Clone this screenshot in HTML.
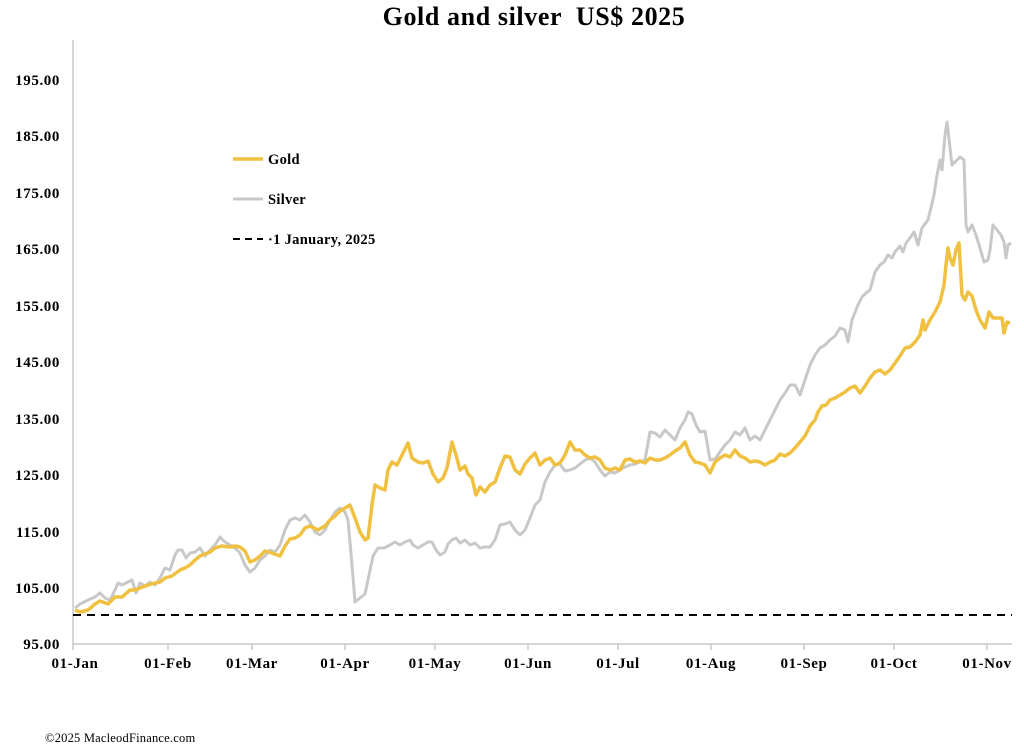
<!DOCTYPE html>
<html><head><meta charset="utf-8"><style>
html,body{margin:0;padding:0;background:#fff;width:1024px;height:753px;overflow:hidden}
svg text{font-family:"Liberation Serif",serif}
</style></head><body>
<svg width="1024" height="753" viewBox="0 0 1024 753">
<text x="534" y="25" text-anchor="middle" font-size="26" font-weight="bold" letter-spacing="0.6" xml:space="preserve">Gold and silver  US$ 2025</text>
<line x1="73" y1="40" x2="73" y2="645" stroke="#c8c8c8" stroke-width="1.5"/>
<line x1="73" y1="644" x2="1012" y2="644" stroke="#c8c8c8" stroke-width="1.5"/>
<g stroke="#c8c8c8" stroke-width="1.5">
<line x1="73" y1="644" x2="73" y2="650"/><line x1="168" y1="644" x2="168" y2="650"/><line x1="252" y1="644" x2="252" y2="650"/><line x1="345" y1="644" x2="345" y2="650"/><line x1="435" y1="644" x2="435" y2="650"/><line x1="528" y1="644" x2="528" y2="650"/><line x1="618" y1="644" x2="618" y2="650"/><line x1="711" y1="644" x2="711" y2="650"/><line x1="804" y1="644" x2="804" y2="650"/><line x1="894" y1="644" x2="894" y2="650"/><line x1="987" y1="644" x2="987" y2="650"/>
</g>
<g font-size="15" font-weight="bold" text-anchor="end" letter-spacing="0.6">
<text x="60" y="85">195.00</text><text x="60" y="141">185.00</text><text x="60" y="198">175.00</text><text x="60" y="254">165.00</text><text x="60" y="311">155.00</text><text x="60" y="367">145.00</text><text x="60" y="424">135.00</text><text x="60" y="480">125.00</text><text x="60" y="537">115.00</text><text x="60" y="593">105.00</text><text x="60" y="649">95.00</text>
</g>
<g font-size="15" font-weight="bold" text-anchor="middle" letter-spacing="0.6">
<text x="75" y="668">01-Jan</text><text x="168" y="668">01-Feb</text><text x="252" y="668">01-Mar</text><text x="345" y="668">01-Apr</text><text x="435" y="668">01-May</text><text x="528" y="668">01-Jun</text><text x="618" y="668">01-Jul</text><text x="711" y="668">01-Aug</text><text x="804" y="668">01-Sep</text><text x="894" y="668">01-Oct</text><text x="987" y="668">01-Nov</text>
</g>
<line x1="73" y1="615" x2="1012" y2="615" stroke="#000" stroke-width="2" stroke-dasharray="8,6"/>
<polyline fill="none" stroke="#c8c8c8" stroke-width="3" stroke-linejoin="round" points="75,608 80,604 88,600 95,597 100,593 105,598 110,600 115,590 118,583 122,585 128,582 132,580 136,593 140,583 145,586 150,582 155,585 160,578 165,568 170,570 175,555 178,550 182,550 186,558 190,553 195,552 200,548 205,556 210,550 215,545 220,537 225,542 230,545 235,548 240,553 245,565 250,572 255,568 260,560 265,556 270,550 275,552 280,545 285,530 290,520 295,518 300,520 305,515 310,522 315,532 320,535 325,530 330,520 335,512 340,508 345,512 348,520 352,565 355,602 360,598 365,594 369,575 373,556 378,548 384,548 390,545 395,542 400,545 405,542 410,540 413,545 418,548 423,545 428,542 432,542 436,550 440,555 445,552 448,544 452,540 456,538 460,543 465,540 470,545 475,543 480,548 485,547 490,547 495,540 500,525 505,524 510,522 515,530 520,535 525,530 530,518 535,505 540,500 545,482 550,472 555,465 560,464 565,471 570,470 575,468 580,464 585,460 590,458 595,462 600,470 605,476 610,472 615,473 620,470 625,467 630,465 635,464 640,462 645,460 650,432 655,433 660,437 665,430 670,435 675,440 680,428 685,420 688,412 692,414 696,425 700,432 705,431 710,460 715,459 720,452 725,445 730,440 735,432 740,435 745,428 750,440 755,436 760,440 765,430 770,420 775,410 780,400 785,393 790,385 795,385 800,395 805,380 810,365 815,355 820,348 825,345 830,340 835,336 840,328 845,330 848,342 852,320 858,305 862,297 866,293 870,290 875,272 880,265 884,262 888,255 892,258 895,252 900,246 903,252 906,243 910,238 914,232 918,245 922,228 928,220 934,195 937,175 940,160 942,170 945,135 947,122 952,165 955,162 960,157 964,160 966,225 968,232 972,225 976,235 980,248 984,262 988,260 990,250 993,225 997,230 1001,235 1004,242 1006,258 1008,245 1011,243"/>
<polyline fill="none" stroke="#f0c040" stroke-width="3.5" stroke-linejoin="round" points="75,610 80,612 88,610 95,604 100,601 108,604 115,597 122,597 130,590 135,590 140,588 148,585 155,583 160,582 165,578 172,576 180,570 185,568 190,565 195,560 200,556 205,554 210,552 215,548 222,546 230,547 235,546 240,547 245,551 250,562 255,560 260,556 265,551 272,553 280,556 285,546 290,539 295,538 300,535 305,528 310,526 318,530 325,526 330,520 335,516 340,511 345,508 350,505 355,518 360,532 365,540 368,538 372,505 375,485 380,488 385,490 388,470 392,462 397,465 402,455 408,443 412,458 418,462 423,463 428,461 433,474 438,482 443,478 447,468 452,442 456,455 460,470 465,466 468,474 472,478 476,495 480,487 485,492 490,485 495,482 500,468 505,456 510,457 515,470 520,474 525,464 530,458 535,453 540,465 545,460 550,458 555,465 560,463 565,455 570,442 575,450 580,450 585,455 590,458 595,457 600,460 605,468 610,470 615,468 620,470 625,460 630,459 635,462 640,461 645,463 650,458 655,460 660,460 665,458 670,455 675,451 680,448 685,442 690,455 695,462 700,463 705,465 710,473 715,462 720,458 725,455 730,457 735,450 740,456 745,458 750,462 755,461 760,462 765,465 770,462 775,460 780,454 785,456 790,453 795,448 800,442 805,436 810,426 815,420 818,412 822,406 826,405 830,400 835,398 840,395 845,392 850,388 855,386 860,393 865,386 870,378 875,372 880,370 885,374 890,370 895,363 900,356 905,348 910,347 915,342 920,335 923,320 925,330 930,320 935,312 940,302 944,285 946,265 948,248 950,258 953,265 956,250 959,243 962,295 965,300 968,292 972,296 976,310 980,320 985,328 989,312 993,318 997,318 1002,318 1004,333 1007,322 1010,323"/>
<line x1="233" y1="159" x2="263" y2="159" stroke="#f0c040" stroke-width="3.5"/>
<line x1="233" y1="199" x2="263" y2="199" stroke="#c8c8c8" stroke-width="3"/>
<line x1="233" y1="239" x2="263" y2="239" stroke="#000" stroke-width="2" stroke-dasharray="7,5"/>
<g font-size="14.5" font-weight="bold" letter-spacing="0.3">
<text x="268" y="164">Gold</text><text x="268" y="204">Silver</text><text x="268" y="244">·1 January, 2025</text>
</g>
<text x="45" y="742" font-size="12.5" letter-spacing="0.2">©2025 MacleodFinance.com</text>
</svg>
</body></html>
